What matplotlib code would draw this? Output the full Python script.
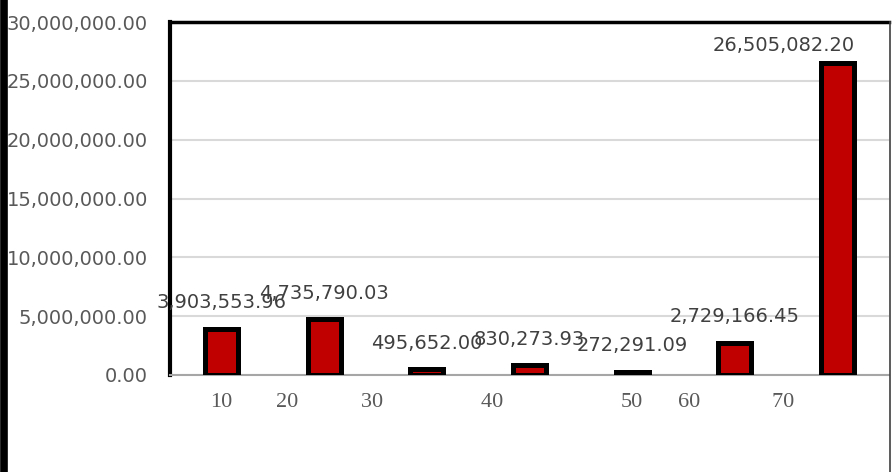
import numpy as np
import matplotlib
matplotlib.use("Agg")
import matplotlib.pyplot as plt
from matplotlib.lines import Line2D

# --- Data ---
categories = [
    "10\nවරිපනම්\nහා බදු",
    "20 කුලී",
    "30 බලපත්ර\nගාස්තු",
    "40 සේවා\nසදහා\nගාස්තු",
    "50\nවරෙන්තු\nහා දඩ",
    "60 වෙනත්\nආදායම්",
    "70 ආදායම්\nආධාර",
]
values = [3903553.96, 4735790.03, 495652.00, 830273.93, 272291.09, 2729166.45, 26505082.20]
y_ticks = [0, 5000000, 10000000, 15000000, 20000000, 25000000, 30000000]

BAR_COLOR = "#C00000"
TEXT_COLOR = "#595959"

fig = plt.figure(figsize=(8.92, 4.72), dpi=100)
ax = fig.add_axes([170 / 892, 1 - 375 / 472, 719 / 892, 353 / 472])

x = np.arange(len(categories))
bars = ax.bar(x, values, width=0.32, color=BAR_COLOR, edgecolor="black",
              linewidth=3.6, zorder=3)

for i, (xi, v) in enumerate(zip(x, values)):
    # the tallest label is pushed left/down to stay inside the plot box
    offset = (-39, 6) if i == len(values) - 1 else (0, 12)
    ax.annotate(f"{v:,.2f}", (xi, v), xytext=offset, textcoords="offset points",
                ha="center", va="bottom", fontsize=14, color="#404040",
                family="DejaVu Sans", zorder=5)

ax.set_xlim(-0.5, len(categories) - 0.5)
ax.set_ylim(0, 30000000)
ax.set_yticks(y_ticks)
ax.set_yticklabels([f"{t:,.2f}" for t in y_ticks])
ax.set_xticks(x)
ax.set_xticklabels(categories, linespacing=1.3)
ax.tick_params(axis="y", length=0, pad=16, labelsize=14, labelcolor=TEXT_COLOR)
ax.tick_params(axis="x", length=0, pad=13, labelsize=16, labelcolor=TEXT_COLOR)
for lab in ax.get_xticklabels():
    lab.set_family(["Liberation Serif", "Noto Sans", "DejaVu Sans"])

ax.grid(axis="y", color="#d9d9d9", linewidth=1.5, zorder=0)
ax.set_axisbelow(True)

ax.spines["left"].set_linewidth(3)
ax.spines["left"].set_color("black")
ax.spines["top"].set_linewidth(2.5)
ax.spines["top"].set_color("black")
ax.spines["right"].set_visible(False)
ax.spines["bottom"].set_color("#a6a6a6")
ax.spines["bottom"].set_linewidth(1.5)

# outer frame pieces: thick bar on the far left, thin line on the right edge
fig.add_artist(Line2D([0.004, 0.004], [0, 1], color="black", linewidth=5.5,
                      transform=fig.transFigure))
fig.add_artist(Line2D([0.9975, 0.9975], [0, 1 - 22 / 472], color="#404040",
                      linewidth=1.2, transform=fig.transFigure))

fig.savefig("out.png", dpi=100)
